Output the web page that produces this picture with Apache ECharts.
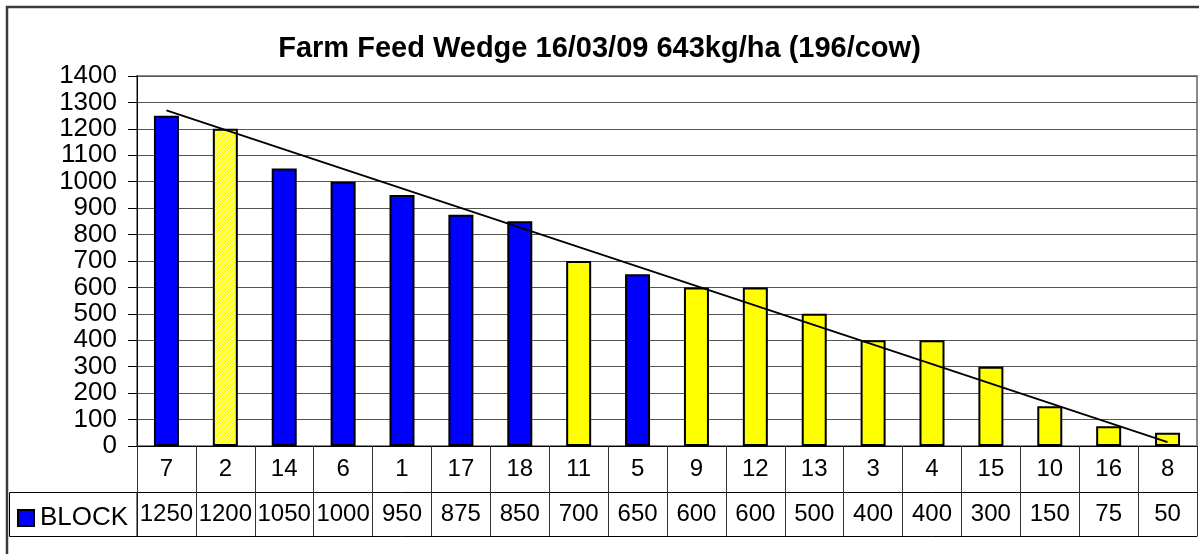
<!DOCTYPE html>
<html>
<head>
<meta charset="utf-8">
<script src="https://cdn.jsdelivr.net/npm/echarts@6/dist/echarts.min.js"></script>
<style>
html,body{margin:0;padding:0;background:#fff;}
#chart{width:1199px;height:554px;}
</style>
</head>
<body>
<div id="chart"></div>
<script>
// ---- data ----
const titleText = 'Farm Feed Wedge 16/03/09 643kg/ha (196/cow)';
const seriesName = 'BLOCK';
const categories = ['7','2','14','6','1','17','18','11','5','9','12','13','3','4','15','10','16','8'];
const values = [1250,1200,1050,1000,950,875,850,700,650,600,600,500,400,400,300,150,75,50];
// group of each bar: B = blue, H = hatched yellow, Y = yellow
const groups = ['B','H','B','B','B','B','B','Y','B','Y','Y','Y','Y','Y','Y','Y','Y','Y'];
const trendStart = 1270;
const trendEnd = 15;
const yMin = 0, yMax = 1400, yStep = 100;

// ---- styles ----
const FONT = '"Liberation Sans", Arial, sans-serif';
function hatchPattern() {
  const c = document.createElement('canvas');
  c.width = 3; c.height = 3;
  const g = c.getContext('2d');
  g.fillStyle = '#ffff00'; g.fillRect(0,0,3,3);
  g.fillStyle = '#ffffb0'; g.fillRect(0,0,1,1); g.fillRect(2,1,1,1); g.fillRect(1,2,1,1);
  return c;
}
const hatch = hatchPattern();
const colorFor = { B: '#0000ff', Y: '#ffff00', H: { image: hatch, repeat: 'repeat' } };

const barData = values.map((v, i) => ({
  value: v,
  itemStyle: { color: colorFor[groups[i]] }
}));
const trendData = categories.map((c, i) => i === 0 ? trendStart : (i === categories.length - 1 ? trendEnd : null));

const chart = echarts.init(document.getElementById('chart'), null, { renderer: 'canvas' });
chart.setOption({
  animation: false,
  backgroundColor: '#fff',
  textStyle: { fontFamily: FONT },
  title: {
    text: titleText,
    left: 'center',
    top: 34,
    padding: 0,
    textStyle: { fontFamily: FONT, fontSize: 29, fontWeight: 'bold', color: '#000' }
  },
  legend: {
    data: [seriesName],
    left: 17,
    top: 505,
    padding: 0,
    icon: 'rect',
    itemWidth: 16,
    itemHeight: 16,
    itemGap: 4,
    textStyle: { fontFamily: FONT, fontSize: 26, color: '#000', padding: [0,0,0,1] }
  },
  grid: {
    left: 137, right: 2, top: 76, bottom: 108,
    show: true, borderColor: '#8a8a8a', borderWidth: 2, backgroundColor: '#fff'
  },
  xAxis: [
    {
      type: 'category',
      data: categories,
      position: 'bottom',
      axisLine: { show: true, lineStyle: { color: '#000', width: 1 } },
      axisTick: { show: true, interval: 0, length: 46, lineStyle: { color: '#333', width: 1 } },
      axisLabel: { interval: 0, margin: 11, fontFamily: FONT, fontSize: 24, color: '#000', lineHeight: 24 },
      splitLine: { show: false }
    },
    {
      type: 'category',
      data: categories,
      position: 'bottom',
      offset: 46,
      axisLine: { show: true, lineStyle: { color: '#000', width: 1 } },
      axisTick: { show: true, interval: 0, length: 44, lineStyle: { color: '#333', width: 1 } },
      axisLabel: { interval: 0, margin: 10, fontFamily: FONT, fontSize: 24, color: '#000', lineHeight: 24,
        formatter: (v, i) => String(values[i]) },
      splitLine: { show: false }
    },
    {
      type: 'category',
      data: categories,
      position: 'bottom',
      offset: 90,
      axisLine: { show: true, lineStyle: { color: '#000', width: 1 } },
      axisTick: { show: false },
      axisLabel: { show: false },
      splitLine: { show: false }
    }
  ],
  yAxis: {
    type: 'value',
    min: yMin, max: yMax, interval: yStep,
    axisLine: { show: true, lineStyle: { color: '#000', width: 1 } },
    axisTick: { show: true, length: 9, lineStyle: { color: '#000' } },
    axisLabel: { margin: 20, fontFamily: FONT, fontSize: 26, color: '#000', formatter: v => String(v) },
    splitLine: { show: true, lineStyle: { color: '#555', width: 1 } }
  },
  graphic: [
    { type: 'rect', shape: { x: 7, y: 7, width: 1300, height: 700 }, style: { fill: null, stroke: '#3a3a3a', lineWidth: 2.5 }, silent: true, z: 100 },
    { type: 'rect', shape: { x: 9.5, y: 492.5, width: 127.5, height: 44 }, style: { fill: null, stroke: '#000', lineWidth: 1 }, silent: true, z: 100 }
  ],
  series: [
    {
      name: seriesName,
      type: 'bar',
      xAxisIndex: 0,
      data: barData,
      barWidth: 25,
      itemStyle: { color: '#0000ff', borderColor: '#000', borderWidth: 2 }
    },
    {
      name: 'trend',
      type: 'line',
      xAxisIndex: 0,
      data: trendData,
      connectNulls: true,
      showSymbol: false,
      symbol: 'none',
      lineStyle: { color: '#000', width: 1.8 },
      z: 5
    }
  ]
});
</script>
</body>
</html>
